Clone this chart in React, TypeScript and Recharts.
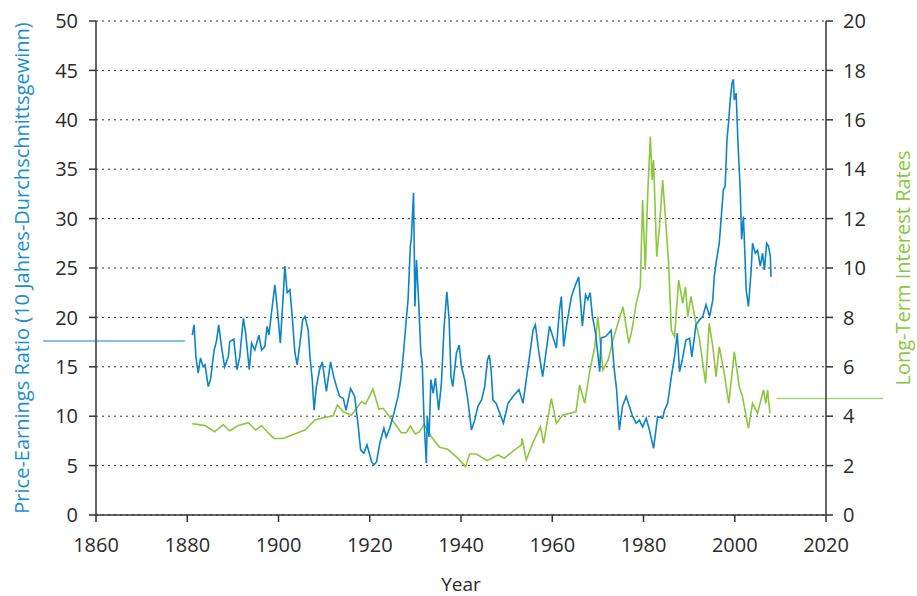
import React from 'react';
import { LineChart, Line, XAxis, YAxis, CartesianGrid, ReferenceLine } from 'recharts';

// Price-earnings ratio (10-year average earnings): [year, value]
const peSeries: [number, number][] = [
  [1881.1, 18.2], [1881.5, 19.25], [1881.9, 16.0], [1882.4, 14.35], [1882.9, 15.9], [1883.5, 15.0],
  [1883.9, 15.2], [1884.6, 13.0], [1885.1, 13.7], [1885.9, 16.7], [1886.4, 17.6], [1886.9, 19.25],
  [1887.5, 17.05], [1888.2, 15.0], [1889.0, 16.0], [1889.3, 17.55], [1890.2, 17.8], [1890.9, 14.7],
  [1891.5, 16.0], [1892.3, 19.9], [1892.8, 18.4], [1893.6, 14.7], [1894.1, 17.4], [1894.8, 16.7],
  [1895.7, 18.2], [1896.3, 16.7], [1897.0, 17.05], [1897.5, 19.1], [1897.9, 18.2], [1898.5, 20.6],
  [1899.2, 23.3], [1899.7, 21.1], [1900.4, 17.4], [1901.0, 21.95], [1901.4, 25.2], [1901.9, 22.5],
  [1902.5, 22.8], [1903.0, 20.1], [1903.6, 16.4], [1904.1, 15.2], [1904.7, 17.4], [1905.3, 19.75],
  [1905.8, 20.1], [1906.5, 18.75], [1906.9, 16.0], [1907.4, 13.7], [1907.8, 10.6], [1908.3, 13.0],
  [1909.0, 14.7], [1909.6, 15.5], [1910.5, 12.5], [1911.4, 15.5], [1912.1, 14.0], [1912.7, 13.0],
  [1913.4, 12.0], [1914.2, 11.8], [1914.8, 10.6], [1915.8, 12.8], [1916.7, 12.0], [1917.4, 9.3],
  [1918.0, 6.6], [1918.7, 6.25], [1919.4, 7.1], [1920.4, 5.4], [1920.9, 5.07], [1921.5, 5.4],
  [1922.2, 7.26], [1923.1, 8.8], [1923.6, 7.9], [1924.4, 8.8], [1925.3, 10.3], [1926.2, 12.0],
  [1926.8, 13.7], [1927.4, 16.4], [1928.0, 19.75], [1928.4, 21.8], [1928.9, 27.2], [1929.1, 27.9],
  [1929.6, 32.6], [1929.9, 21.1], [1930.25, 25.8], [1930.7, 21.8], [1931.2, 16.4], [1931.5, 15.4],
  [1931.9, 9.6], [1932.4, 5.24], [1932.6, 9.96], [1933.0, 7.9], [1933.4, 13.7], [1933.9, 12.3],
  [1934.4, 13.85], [1935.1, 10.6], [1935.7, 13.3], [1936.3, 19.1], [1936.9, 22.6], [1937.4, 19.75],
  [1937.8, 14.0], [1938.2, 13.0], [1939.0, 16.4], [1939.6, 17.2], [1940.1, 15.0], [1940.8, 13.7],
  [1941.5, 11.65], [1942.3, 8.6], [1943.0, 9.6], [1943.7, 11.0], [1944.5, 11.65], [1945.2, 13.0],
  [1945.8, 15.7], [1946.2, 16.2], [1946.6, 14.7], [1947.0, 11.65], [1947.7, 11.3], [1948.5, 10.3],
  [1949.3, 9.3], [1950.3, 11.3], [1951.4, 12.0], [1952.7, 12.7], [1953.6, 11.3], [1954.3, 13.7],
  [1955.0, 16.0], [1955.8, 18.7], [1956.3, 19.25], [1957.0, 16.7], [1957.9, 14.0], [1958.7, 16.7],
  [1959.4, 19.1], [1960.1, 18.1], [1960.9, 16.9], [1961.6, 20.8], [1962.0, 22.1], [1962.5, 17.05],
  [1963.2, 19.4], [1964.2, 22.1], [1965.1, 23.3], [1965.8, 24.1], [1966.6, 19.1], [1967.3, 22.3],
  [1967.8, 21.8], [1968.3, 22.5], [1968.8, 20.1], [1969.5, 18.4], [1970.4, 14.5], [1970.7, 17.9],
  [1971.8, 18.1], [1972.9, 18.7], [1973.6, 14.7], [1974.1, 12.7], [1974.7, 8.6], [1975.4, 11.0],
  [1976.2, 12.0], [1976.9, 11.0], [1977.6, 10.0], [1978.4, 9.3], [1979.1, 9.6], [1979.8, 8.9],
  [1980.6, 9.8], [1981.3, 8.6], [1982.2, 6.75], [1983.1, 9.96], [1984.2, 9.8], [1984.6, 10.6],
  [1985.3, 11.3], [1986.1, 14.0], [1986.8, 16.0], [1987.4, 18.4], [1987.9, 14.5], [1988.5, 15.7],
  [1989.3, 17.7], [1990.1, 17.9], [1990.6, 16.0], [1991.5, 19.25], [1992.3, 19.75], [1993.0, 20.1],
  [1993.7, 21.3], [1994.5, 20.1], [1995.2, 21.8], [1995.5, 24.1], [1996.0, 25.8], [1996.6, 27.5],
  [1997.5, 32.9], [1997.9, 33.3], [1998.3, 38.0], [1998.7, 40.0], [1999.0, 42.0], [1999.4, 43.7],
  [1999.7, 44.1], [1999.9, 42.0], [2000.3, 42.7], [2000.7, 37.7], [2001.2, 32.9], [2001.5, 27.9],
  [2001.9, 30.2], [2002.3, 25.5], [2002.5, 22.8], [2003.0, 21.1], [2003.6, 24.8], [2003.9, 27.5],
  [2004.5, 26.5], [2005.0, 26.8], [2005.6, 25.2], [2006.1, 26.5], [2006.5, 24.8], [2007.0, 27.5],
  [2007.4, 27.2], [2007.8, 26.2], [2007.95, 24.1],
];

// Long-term interest rates (%): [year, value]
const rateSeries: [number, number][] = [
  [1881.1, 3.7], [1883.9, 3.62], [1886.0, 3.37], [1887.9, 3.66], [1889.3, 3.41], [1891.2, 3.62],
  [1893.4, 3.74], [1895.0, 3.44], [1896.3, 3.62], [1897.5, 3.37], [1899.0, 3.1], [1901.0, 3.1],
  [1905.8, 3.44], [1908.0, 3.85], [1909.8, 3.94], [1912.0, 4.02], [1912.9, 4.45], [1914.2, 4.18],
  [1916.0, 4.05], [1918.2, 4.59], [1919.1, 4.49], [1920.7, 5.1], [1922.0, 4.28], [1922.9, 4.32],
  [1924.4, 3.98], [1926.9, 3.33], [1928.0, 3.33], [1928.9, 3.6], [1930.0, 3.28], [1930.9, 3.37],
  [1931.9, 3.67], [1933.5, 3.17], [1935.3, 2.74], [1937.1, 2.66], [1939.3, 2.3], [1941.0, 1.96],
  [1941.9, 2.47], [1943.4, 2.47], [1945.7, 2.2], [1948.1, 2.43], [1949.5, 2.3], [1951.4, 2.59],
  [1953.2, 2.83], [1953.4, 3.1], [1954.3, 2.23], [1955.7, 2.9], [1957.4, 3.58], [1958.1, 2.9],
  [1959.8, 4.72], [1960.9, 3.71], [1962.3, 4.05], [1965.2, 4.18], [1966.0, 5.26], [1967.1, 4.52],
  [1968.2, 5.8], [1969.3, 6.8], [1970.0, 8.03], [1971.1, 5.87], [1972.3, 6.3], [1973.3, 7.08],
  [1974.4, 7.76], [1975.5, 8.43], [1976.8, 6.95], [1977.6, 7.62], [1978.4, 8.57], [1979.3, 9.24],
  [1979.8, 12.75], [1980.4, 9.92], [1980.9, 12.89], [1981.5, 15.32], [1981.9, 13.56], [1982.2, 14.37],
  [1982.9, 10.46], [1983.5, 11.67], [1984.2, 13.56], [1984.9, 11.81], [1985.5, 10.19], [1986.1, 7.49],
  [1986.8, 7.22], [1987.7, 9.51], [1988.6, 8.57], [1989.2, 9.24], [1989.7, 8.03], [1990.4, 8.84],
  [1991.5, 7.76], [1992.3, 7.09], [1993.6, 5.33], [1994.4, 7.76], [1995.2, 6.81], [1995.9, 5.6],
  [1996.6, 6.81], [1997.7, 5.74], [1998.7, 4.52], [1999.9, 6.61], [2001.0, 5.19], [2001.7, 4.79],
  [2002.5, 3.98], [2003.0, 3.51], [2003.9, 4.52], [2005.0, 4.12], [2006.3, 5.06], [2006.8, 4.52],
  [2007.2, 5.06], [2007.7, 4.12],
];

const xTicks = [1860, 1880, 1900, 1920, 1940, 1960, 1980, 2000, 2020];
const leftTicks = [0, 5, 10, 15, 20, 25, 30, 35, 40, 45, 50];
const rightTicks = [0, 2, 4, 6, 8, 10, 12, 14, 16, 18, 20];

// callout connector lines [x, y] in data units
const peCallout: [number, number][] = [[1848.4, 17.6], [1879.5, 17.6]];
const rateCallout: [number, number][] = [[2009.1, 4.72], [2032.5, 4.72]];

const peData = peSeries.map(([year, v]) => ({ year, v }));
const rateData = rateSeries.map(([year, v]) => ({ year, v }));

const FONT = '"Open Sans", sans-serif';
const BLUE = '#0c84c8';
const GREEN = '#8dc63f';
const AXIS = '#333333';

export default function App() {
  const tickStyle = { fill: '#2a2a2a', fontSize: 20, fontFamily: FONT };
  return (
    <div style={{ position: 'absolute', left: 0, top: 0, width: 917, height: 596, background: '#fff' }}>
      <LineChart width={917} height={596} margin={{ top: 21, right: 0, left: 0, bottom: 0 }} style={{ fontFamily: FONT }}>
        <CartesianGrid yAxisId="left" vertical={false} stroke={AXIS} strokeDasharray="2 4" />
        <XAxis
          type="number"
          dataKey="year"
          domain={[1860, 2020]}
          ticks={xTicks}
          height={81}
          tickSize={7}
          tickMargin={16}
          tick={tickStyle}
          stroke={AXIS}
          strokeWidth={1.5}
          allowDuplicatedCategory={false}
          label={{ value: 'Year', position: 'insideBottom', offset: 5, style: { fill: '#2a2a2a', fontSize: 19, fontFamily: FONT } }}
        />
        <YAxis
          yAxisId="left"
          orientation="left"
          domain={[0, 50]}
          ticks={leftTicks}
          width={96}
          tickSize={7}
          tickMargin={11}
          tick={tickStyle}
          stroke={AXIS}
          strokeWidth={1.5}
          label={{
            value: 'Price-Earnings Ratio (10 Jahres-Durchschnittsgewinn)',
            angle: -90,
            position: 'insideLeft',
            offset: 22,
            style: { textAnchor: 'middle', fill: '#1a8fd0', fontSize: 20, fontFamily: FONT },
          }}
        />
        <YAxis
          yAxisId="right"
          orientation="right"
          domain={[0, 20]}
          ticks={rightTicks}
          width={91}
          tickSize={7}
          tickMargin={10}
          tick={tickStyle}
          stroke={AXIS}
          strokeWidth={1.5}
          label={{
            value: 'Long-Term Interest Rates',
            angle: -90,
            position: 'insideRight',
            offset: 14,
            style: { textAnchor: 'middle', fill: GREEN, fontSize: 20, fontFamily: FONT },
          }}
        />
        <ReferenceLine
          yAxisId="left"
          segment={peCallout.map(([x, y]) => ({ x, y }))}
          stroke="#5aaee0"
          strokeWidth={1.5}
          ifOverflow="visible"
        />
        <ReferenceLine
          yAxisId="right"
          segment={rateCallout.map(([x, y]) => ({ x, y }))}
          stroke="#a9d477"
          strokeWidth={1.5}
          ifOverflow="visible"
        />
        <Line
          yAxisId="right"
          data={rateData}
          dataKey="v"
          type="linear"
          stroke={GREEN}
          strokeWidth={1.6}
          dot={false}
          activeDot={false}
          isAnimationActive={false}
        />
        <Line
          yAxisId="left"
          data={peData}
          dataKey="v"
          type="linear"
          stroke={BLUE}
          strokeWidth={1.6}
          dot={false}
          activeDot={false}
          isAnimationActive={false}
        />
      </LineChart>
    </div>
  );
}
